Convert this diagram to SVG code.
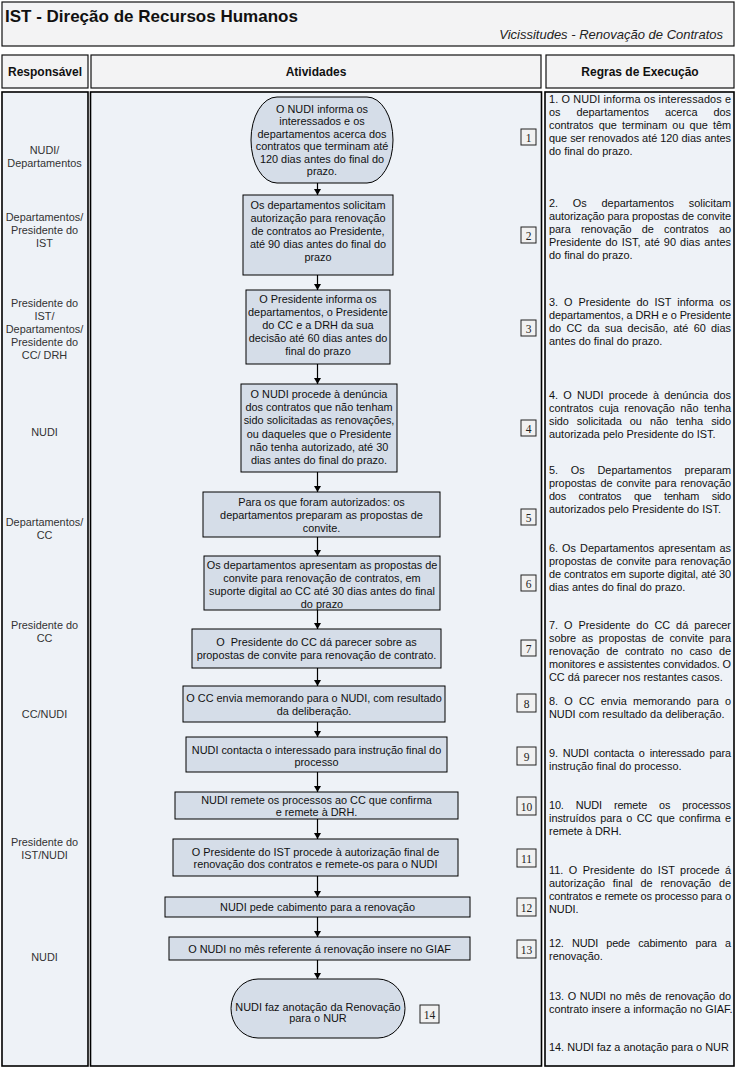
<svg xmlns="http://www.w3.org/2000/svg" width="737" height="1069" viewBox="0 0 737 1069">
<defs>
<style>
.hdr{fill:#f3f3f4;stroke:#111;stroke-width:1.2}
.col{fill:#eef2f7;stroke:#000;stroke-width:1.6}
.node{fill:#d5dde8;stroke:#000;stroke-width:1}
.num{fill:#f1f1f1;stroke:#222;stroke-width:1}
.t{font-family:"Liberation Sans",Arial,sans-serif;font-size:10.9px;fill:#111;text-anchor:middle}
.resp{font-family:"Liberation Sans",Arial,sans-serif;font-size:10.9px;fill:#333;text-anchor:middle}
.r{font-family:"Liberation Sans",Arial,sans-serif;font-size:10.9px;fill:#111}
.h{font-family:"Liberation Sans",Arial,sans-serif;font-size:12px;font-weight:bold;fill:#111;text-anchor:middle}
.n{font-family:"Liberation Serif","Times New Roman",serif;font-size:11.5px;fill:#222;text-anchor:middle}
.conn{stroke:#000;stroke-width:1.2;fill:none;marker-end:url(#ah)}
</style>
<marker id="ah" markerUnits="userSpaceOnUse" markerWidth="6" markerHeight="7" refX="6" refY="3.5" orient="auto">
<path d="M0,0 L6,3.5 L0,7 z" fill="#000"/>
</marker>
</defs>
<rect width="737" height="1069" fill="#ffffff"/>

<g id="header">
<rect class="hdr" x="2" y="2" width="732" height="44"/>
<text x="5" y="22" font-family="'Liberation Sans',Arial,sans-serif" font-size="17" font-weight="bold" fill="#111">IST - Direção de Recursos Humanos</text>
<text x="723" y="39" font-family="'Liberation Sans',Arial,sans-serif" font-size="13" font-style="italic" fill="#222" text-anchor="end">Vicissitudes - Renovação de Contratos</text>
</g>

<g id="column-headers">
<rect class="hdr" x="2" y="55" width="86" height="33"/>
<rect class="hdr" x="91" y="55" width="450" height="33"/>
<rect class="hdr" x="546" y="55" width="188" height="33"/>
<text class="h" x="45" y="76">Responsável</text>
<text class="h" x="316" y="76">Atividades</text>
<text class="h" x="640" y="76">Regras de Execução</text>
</g>

<g id="columns">
<rect class="col" x="2" y="92" width="86" height="974"/>
<rect class="col" x="90.5" y="92" width="451" height="974"/>
<rect class="col" x="545" y="92" width="189" height="974"/>
</g>

<g id="responsavel">
<text class="resp" x="44.5" y="153.5">NUDI/</text>
<text class="resp" x="44.5" y="166.5">Departamentos</text>
<text class="resp" x="44.5" y="220.5">Departamentos/</text>
<text class="resp" x="44.5" y="233.5">Presidente do</text>
<text class="resp" x="44.5" y="246.5">IST</text>
<text class="resp" x="44.5" y="307">Presidente do</text>
<text class="resp" x="44.5" y="320">IST/</text>
<text class="resp" x="44.5" y="333">Departamentos/</text>
<text class="resp" x="44.5" y="346">Presidente do</text>
<text class="resp" x="44.5" y="359">CC/ DRH</text>
<text class="resp" x="44.5" y="436">NUDI</text>
<text class="resp" x="44.5" y="525.5">Departamentos/</text>
<text class="resp" x="44.5" y="538.5">CC</text>
<text class="resp" x="44.5" y="628.5">Presidente do</text>
<text class="resp" x="44.5" y="641.5">CC</text>
<text class="resp" x="44.5" y="717.5">CC/NUDI</text>
<text class="resp" x="44.5" y="846">Presidente do</text>
<text class="resp" x="44.5" y="859">IST/NUDI</text>
<text class="resp" x="44.5" y="960.5">NUDI</text>
</g>

<g id="connectors">
<line class="conn" x1="317.5" y1="183" x2="317.5" y2="195"/>
<line class="conn" x1="317.5" y1="275" x2="317.5" y2="290"/>
<line class="conn" x1="317.5" y1="364" x2="317.5" y2="384"/>
<line class="conn" x1="317.5" y1="472" x2="317.5" y2="492"/>
<line class="conn" x1="317.5" y1="537" x2="317.5" y2="556"/>
<line class="conn" x1="317.5" y1="610" x2="317.5" y2="629"/>
<line class="conn" x1="317.5" y1="668" x2="317.5" y2="686"/>
<line class="conn" x1="317.5" y1="722" x2="317.5" y2="737"/>
<line class="conn" x1="317.5" y1="772" x2="317.5" y2="792"/>
<line class="conn" x1="317.5" y1="819" x2="317.5" y2="839"/>
<line class="conn" x1="317.5" y1="876" x2="317.5" y2="897"/>
<line class="conn" x1="317.5" y1="917" x2="317.5" y2="937"/>
<line class="conn" x1="317.5" y1="960" x2="317.5" y2="979"/>
</g>

<g id="n1">
<rect class="node" x="251" y="97" width="142" height="86" rx="26" ry="43"/>
<text class="t" x="322" y="112.5">O NUDI informa os</text>
<text class="t" x="322" y="125">interessados e os</text>
<text class="t" x="322" y="137.5">departamentos acerca dos</text>
<text class="t" x="322" y="150">contratos que terminam até</text>
<text class="t" x="322" y="162.5">120 dias antes do final do</text>
<text class="t" x="322" y="175">prazo.</text>
<rect class="num" x="521" y="129" width="15" height="16"/>
<text class="n" x="528.5" y="141.5">1</text>
</g>

<g id="n2">
<rect class="node" x="243" y="195" width="150" height="80"/>
<text class="t" x="318" y="209">Os departamentos solicitam</text>
<text class="t" x="318" y="222">autorização para renovação</text>
<text class="t" x="318" y="235">de contratos ao Presidente,</text>
<text class="t" x="318" y="248">até 90 dias antes do final do</text>
<text class="t" x="318" y="261">prazo</text>
<rect class="num" x="521" y="227" width="15" height="16"/>
<text class="n" x="528.5" y="239.5">2</text>
</g>

<g id="n3">
<rect class="node" x="246" y="290" width="144" height="74"/>
<text class="t" x="318" y="303">O Presidente informa os</text>
<text class="t" x="318" y="316">departamentos, o Presidente</text>
<text class="t" x="318" y="329">do CC e a DRH da sua</text>
<text class="t" x="318" y="342">decisão até 60 dias antes do</text>
<text class="t" x="318" y="355">final do prazo</text>
<rect class="num" x="521" y="320" width="15" height="16"/>
<text class="n" x="528.5" y="332.5">3</text>
</g>

<g id="n4">
<rect class="node" x="241" y="384" width="156" height="88"/>
<text class="t" x="319" y="398">O NUDI procede à denúncia</text>
<text class="t" x="319" y="411.2">dos contratos que não tenham</text>
<text class="t" x="319" y="424.4">sido solicitadas as renovações,</text>
<text class="t" x="319" y="437.6">ou daqueles que o Presidente</text>
<text class="t" x="319" y="450.8">não tenha autorizado, até 30</text>
<text class="t" x="319" y="464">dias antes do final do prazo.</text>
<rect class="num" x="521" y="420" width="15" height="16"/>
<text class="n" x="528.5" y="432.5">4</text>
</g>

<g id="n5">
<rect class="node" x="203" y="492" width="237" height="45"/>
<text class="t" x="321.5" y="506">Para os que foram autorizados: os</text>
<text class="t" x="321.5" y="519">departamentos preparam as propostas de</text>
<text class="t" x="321.5" y="532">convite.</text>
<rect class="num" x="521" y="509" width="15" height="16"/>
<text class="n" x="528.5" y="521.5">5</text>
</g>

<g id="n6">
<rect class="node" x="204" y="556" width="236" height="54"/>
<text class="t" x="322" y="568.5">Os departamentos apresentam as propostas de</text>
<text class="t" x="322" y="581.5">convite para renovação de contratos, em</text>
<text class="t" x="322" y="594.5">suporte digital ao CC até 30 dias antes do final</text>
<text class="t" x="322" y="607.5">do prazo</text>
<rect class="num" x="521" y="575" width="15" height="16"/>
<text class="n" x="528.5" y="587.5">6</text>
</g>

<g id="n7">
<rect class="node" x="192" y="629" width="249" height="39"/>
<text class="t" x="316.5" y="646" xml:space="preserve">O  Presidente do CC dá parecer sobre as</text>
<text class="t" x="316.5" y="659">propostas de convite para renovação de contrato.</text>
<rect class="num" x="521" y="640" width="15" height="16"/>
<text class="n" x="528.5" y="652.5">7</text>
</g>

<g id="n8">
<rect class="node" x="183" y="686" width="262" height="36"/>
<text class="t" x="314" y="701.5">O CC envia memorando para o NUDI, com resultado</text>
<text class="t" x="314" y="714.5">da deliberação.</text>
<rect class="num" x="517" y="694" width="19" height="18"/>
<text class="n" x="526.5" y="707.5">8</text>
</g>

<g id="n9">
<rect class="node" x="186" y="737" width="261" height="35"/>
<text class="t" x="316.5" y="753.5">NUDI contacta o interessado para instrução final do</text>
<text class="t" x="316.5" y="766">processo</text>
<rect class="num" x="517" y="747" width="19" height="18"/>
<text class="n" x="526.5" y="760.5">9</text>
</g>

<g id="n10">
<rect class="node" x="175" y="792" width="283" height="27"/>
<text class="t" x="316.5" y="803.5">NUDI remete os processos ao CC que confirma</text>
<text class="t" x="316.5" y="816">e remete à DRH.</text>
<rect class="num" x="517" y="797" width="19" height="18"/>
<text class="n" x="526.5" y="810.5">10</text>
</g>

<g id="n11">
<rect class="node" x="173" y="839" width="285" height="37"/>
<text class="t" x="315.5" y="855.5">O Presidente do IST procede à autorização final de</text>
<text class="t" x="315.5" y="868">renovação dos contratos e remete-os para o NUDI</text>
<rect class="num" x="517" y="849" width="19" height="18"/>
<text class="n" x="526.5" y="862.5">11</text>
</g>

<g id="n12">
<rect class="node" x="165" y="897" width="305" height="20"/>
<text class="t" x="317.5" y="911">NUDI pede cabimento para a renovação</text>
<rect class="num" x="517" y="898" width="19" height="18"/>
<text class="n" x="526.5" y="911.5">12</text>
</g>

<g id="n13">
<rect class="node" x="169" y="937" width="301" height="23"/>
<text class="t" x="319.5" y="952.5">O NUDI no mês referente á renovação insere no GIAF</text>
<rect class="num" x="517" y="940" width="19" height="18"/>
<text class="n" x="526.5" y="953.5">13</text>
</g>

<g id="n14">
<rect class="node" x="231" y="979" width="174" height="59" rx="27" ry="29.5"/>
<text class="t" x="318" y="1010.5">NUDI faz anotação da Renovação</text>
<text class="t" x="318" y="1022">para o NUR</text>
<rect class="num" x="420" y="1005" width="19" height="18"/>
<text class="n" x="429.5" y="1018.5">14</text>
</g>

<g id="regras">
<text class="r" x="549" y="102.5" textLength="182" lengthAdjust="spacing">1. O NUDI informa os interessados e</text>
<text class="r" x="549" y="115.5" textLength="182" lengthAdjust="spacing" word-spacing="13">os departamentos acerca dos</text>
<text class="r" x="549" y="128.5" textLength="182" lengthAdjust="spacing" word-spacing="2.2">contratos que terminam ou que têm</text>
<text class="r" x="549" y="141.5" textLength="182" lengthAdjust="spacing">que ser renovados até 120 dias antes</text>
<text class="r" x="549" y="154.5">do final do prazo.</text>

<text class="r" x="549" y="207" textLength="182" lengthAdjust="spacing" word-spacing="11.8">2. Os departamentos solicitam</text>
<text class="r" x="549" y="220" textLength="182" lengthAdjust="spacing">autorização para propostas de convite</text>
<text class="r" x="549" y="233" textLength="182" lengthAdjust="spacing" word-spacing="7.2">para renovação de contratos ao</text>
<text class="r" x="549" y="246" textLength="182" lengthAdjust="spacing" word-spacing="1">Presidente do IST, até 90 dias antes</text>
<text class="r" x="549" y="259">do final do prazo.</text>

<text class="r" x="549" y="306" textLength="182" lengthAdjust="spacing" word-spacing="3">3. O Presidente do IST informa os</text>
<text class="r" x="549" y="319" textLength="182" lengthAdjust="spacing">departamentos, a DRH e o Presidente</text>
<text class="r" x="549" y="332" textLength="182" lengthAdjust="spacing" word-spacing="2.3">do CC da sua decisão, até 60 dias</text>
<text class="r" x="549" y="345">antes do final do prazo.</text>

<text class="r" x="549" y="399" textLength="182" lengthAdjust="spacing" word-spacing="2.2">4. O NUDI procede à denúncia dos</text>
<text class="r" x="549" y="412" textLength="182" lengthAdjust="spacing" word-spacing="2.5">contratos cuja renovação não tenha</text>
<text class="r" x="549" y="425" textLength="182" lengthAdjust="spacing" word-spacing="5.1">sido solicitada ou não tenha sido</text>
<text class="r" x="549" y="438">autorizada pelo Presidente do IST.</text>

<text class="r" x="549" y="474" textLength="182" lengthAdjust="spacing" word-spacing="9.8">5. Os Departamentos preparam</text>
<text class="r" x="549" y="487" textLength="182" lengthAdjust="spacing" word-spacing="1">propostas de convite para renovação</text>
<text class="r" x="549" y="500" textLength="182" lengthAdjust="spacing" word-spacing="9.9">dos contratos que tenham sido</text>
<text class="r" x="549" y="513">autorizados pelo Presidente do IST.</text>

<text class="r" x="549" y="552" textLength="182" lengthAdjust="spacing" word-spacing="1.1">6. Os Departamentos apresentam as</text>
<text class="r" x="549" y="565" textLength="182" lengthAdjust="spacing" word-spacing="1">propostas de convite para renovação</text>
<text class="r" x="549" y="578" textLength="182" lengthAdjust="spacing">de contratos em suporte digital, até 30</text>
<text class="r" x="549" y="591">dias antes do final do prazo.</text>

<text class="r" x="549" y="629" textLength="182" lengthAdjust="spacing" word-spacing="3">7. O Presidente do CC dá parecer</text>
<text class="r" x="549" y="642" textLength="182" lengthAdjust="spacing" word-spacing="2.6">sobre as propostas de convite para</text>
<text class="r" x="549" y="655" textLength="182" lengthAdjust="spacing" word-spacing="3.6">renovação de contrato no caso de</text>
<text class="r" x="549" y="668" textLength="182" lengthAdjust="spacing">monitores e assistentes convidados. O</text>
<text class="r" x="549" y="681">CC dá parecer nos restantes casos.</text>

<text class="r" x="549" y="705" textLength="182" lengthAdjust="spacing" word-spacing="3.2">8. O CC envia memorando para o</text>
<text class="r" x="549" y="718">NUDI com resultado da deliberação.</text>

<text class="r" x="549" y="757" textLength="182" lengthAdjust="spacing" word-spacing="2">9. NUDI contacta o interessado para</text>
<text class="r" x="549" y="770">instrução final do processo.</text>

<text class="r" x="549" y="809" textLength="182" lengthAdjust="spacing" word-spacing="9.1">10. NUDI remete os processos</text>
<text class="r" x="549" y="822" textLength="182" lengthAdjust="spacing" word-spacing="1.3">instruídos para o CC que confirma e</text>
<text class="r" x="549" y="835">remete à DRH.</text>

<text class="r" x="549" y="874" textLength="182" lengthAdjust="spacing" word-spacing="2.4">11. O Presidente do IST procede á</text>
<text class="r" x="549" y="887" textLength="182" lengthAdjust="spacing" word-spacing="4.9">autorização final de renovação de</text>
<text class="r" x="549" y="900" textLength="182" lengthAdjust="spacing">contratos e remete os processo para o</text>
<text class="r" x="549" y="913">NUDI.</text>

<text class="r" x="549" y="947" textLength="182" lengthAdjust="spacing" word-spacing="5.3">12. NUDI pede cabimento para a</text>
<text class="r" x="549" y="960">renovação.</text>

<text class="r" x="549" y="1000" textLength="182" lengthAdjust="spacing" word-spacing="0.9">13. O NUDI no mês de renovação do</text>
<text class="r" x="549" y="1013">contrato insere a informação no GIAF.</text>

<text class="r" x="549" y="1051">14. NUDI faz a anotação para o NUR</text>
</g>
</svg>
